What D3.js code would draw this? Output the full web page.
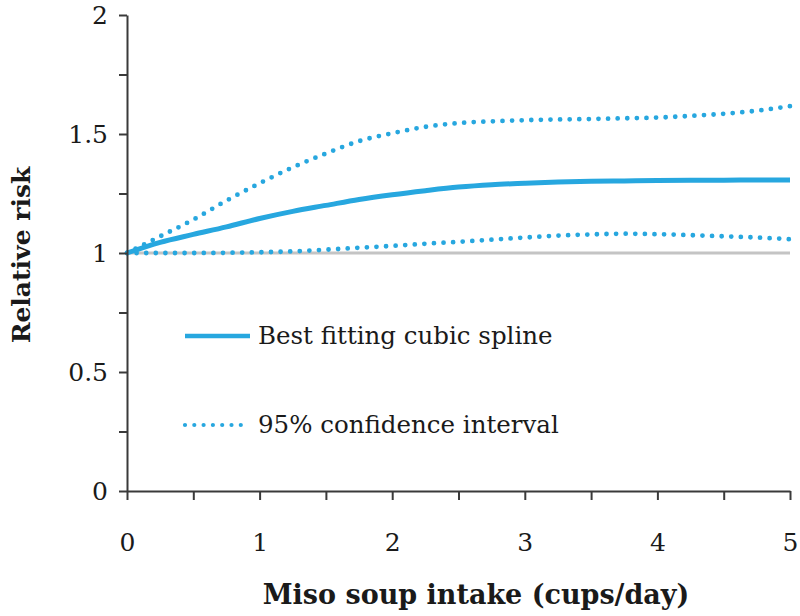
<!DOCTYPE html>
<html>
<head>
<meta charset="utf-8">
<script src="https://cdn.jsdelivr.net/npm/d3@7"></script>
<style>
  html, body { margin: 0; padding: 0; background: #fff; }
  svg { display: block; }
</style>
</head>
<body>
<svg id="chart" width="800" height="616"></svg>
<script>
// ---- Data ----
const intake = [0, 0.25, 0.5, 0.75, 1, 1.25, 1.5, 1.75, 2, 2.25, 2.5, 2.75, 3, 3.25, 3.5, 3.75, 4, 4.25, 4.5, 4.75, 5];
const splineRR = [1.00, 1.045, 1.078, 1.11, 1.145, 1.175, 1.20, 1.225, 1.245, 1.262, 1.277, 1.287, 1.293, 1.298, 1.301, 1.303, 1.305, 1.306, 1.306, 1.307, 1.307];
const upperCI  = [1.00, 1.07, 1.14, 1.22, 1.293, 1.36, 1.418, 1.47, 1.503, 1.53, 1.546, 1.553, 1.558, 1.561, 1.563, 1.566, 1.569, 1.576, 1.585, 1.598, 1.617];
const lowerCI  = [1.00, 1.00, 1.00, 1.001, 1.003, 1.007, 1.014, 1.022, 1.03, 1.039, 1.047, 1.056, 1.065, 1.073, 1.078, 1.081, 1.079, 1.075, 1.07, 1.065, 1.058];
const referenceRR = [1, 1];
const referenceX = [0, 5];
const xTicks = [0, 0.5, 1, 1.5, 2, 2.5, 3, 3.5, 4, 4.5, 5];
const yTicks = [0, 0.25, 0.5, 0.75, 1, 1.25, 1.5, 1.75, 2];
const legendLabels = ["Best fitting cubic spline", "95% confidence interval"];
const xTitle = "Miso soup intake (cups/day)";
const yTitle = "Relative risk";

// ---- Layout ----
const svg = d3.select("#chart");
const mLeft = 127, mRight = 790, mTop = 15, mBottom = 491;
const blue = "#27a7df";
const axisColor = "#3a3a3a";
const font = "'DejaVu Serif', 'Liberation Serif', serif";

const x = d3.scaleLinear().domain([0, 5]).range([mLeft, mRight]);
const y = d3.scaleLinear().domain([0, 2]).range([mBottom, mTop]);

// reference line at RR = 1
svg.append("line")
  .attr("x1", x(referenceX[0])).attr("x2", x(referenceX[1]))
  .attr("y1", y(referenceRR[0])).attr("y2", y(referenceRR[1]))
  .attr("stroke", "#c4c4c4").attr("stroke-width", 3);

const line = d3.line().curve(d3.curveMonotoneX);
function pts(vals) { return intake.map((d, i) => [x(d), y(vals[i])]); }

// CI lines (dotted)
[upperCI, lowerCI].forEach(vals => {
  svg.append("path")
    .attr("d", line(pts(vals)))
    .attr("fill", "none")
    .attr("stroke", blue)
    .attr("stroke-width", 4.8)
    .attr("stroke-linecap", "round")
    .attr("stroke-dasharray", "0 9.6");
});

// spline (solid)
svg.append("path")
  .attr("d", line(pts(splineRR)))
  .attr("fill", "none")
  .attr("stroke", blue)
  .attr("stroke-width", 5);

// ---- Axes ----
const yAxis = d3.axisLeft(y)
  .tickValues(yTicks)
  .tickSize(8)
  .tickSizeOuter(0)
  .tickPadding(11)
  .tickFormat(d => (Math.abs(d * 2 - Math.round(d * 2)) < 1e-6) ? d3.format("~g")(d) : "");
const gy = svg.append("g").attr("transform", `translate(${mLeft},0)`).call(yAxis);

const xAxis = d3.axisBottom(x)
  .tickValues(xTicks)
  .tickSize(9)
  .tickSizeOuter(0)
  .tickPadding(33)
  .tickFormat(d => Number.isInteger(d) ? d : "");
const gx = svg.append("g").attr("transform", `translate(0,${mBottom})`).call(xAxis);

[gx, gy].forEach(g => {
  g.select(".domain").attr("stroke", axisColor).attr("stroke-width", 2);
  g.selectAll(".tick line").attr("stroke", axisColor).attr("stroke-width", 2);
  g.selectAll(".tick text")
    .attr("fill", "#1a1a1a")
    .style("font-family", font)
    .style("font-size", "25px");
});

// ---- Axis titles ----
svg.append("text")
  .attr("x", 476)
  .attr("y", 604)
  .attr("text-anchor", "middle")
  .style("font-family", font)
  .style("font-size", "27px")
  .style("font-weight", "bold")
  .attr("fill", "#1a1a1a")
  .text(xTitle);

svg.append("text")
  .attr("transform", `translate(30,255) rotate(-90)`)
  .attr("text-anchor", "middle")
  .style("font-family", font)
  .style("font-size", "25px")
  .style("font-weight", "bold")
  .attr("fill", "#1a1a1a")
  .text(yTitle);

// ---- Legend ----
const legend = svg.append("g");
const legendRows = [
  { label: legendLabels[0], dash: null, yPos: 336 },
  { label: legendLabels[1], dash: "0 9.3", yPos: 425 }
];
legendRows.forEach(r => {
  const ln = legend.append("line")
    .attr("x1", 185).attr("x2", r.dash ? 248 : 250)
    .attr("y1", r.yPos).attr("y2", r.yPos)
    .attr("stroke", blue);
  if (r.dash) {
    ln.attr("stroke-width", 4.2).attr("stroke-linecap", "round").attr("stroke-dasharray", r.dash);
  } else {
    ln.attr("stroke-width", 4.5);
  }
  legend.append("text")
    .attr("x", 258).attr("y", r.yPos + 8)
    .style("font-family", font)
    .style("font-size", "24.5px")
    .attr("fill", "#1a1a1a")
    .text(r.label);
});
</script>
</body>
</html>
